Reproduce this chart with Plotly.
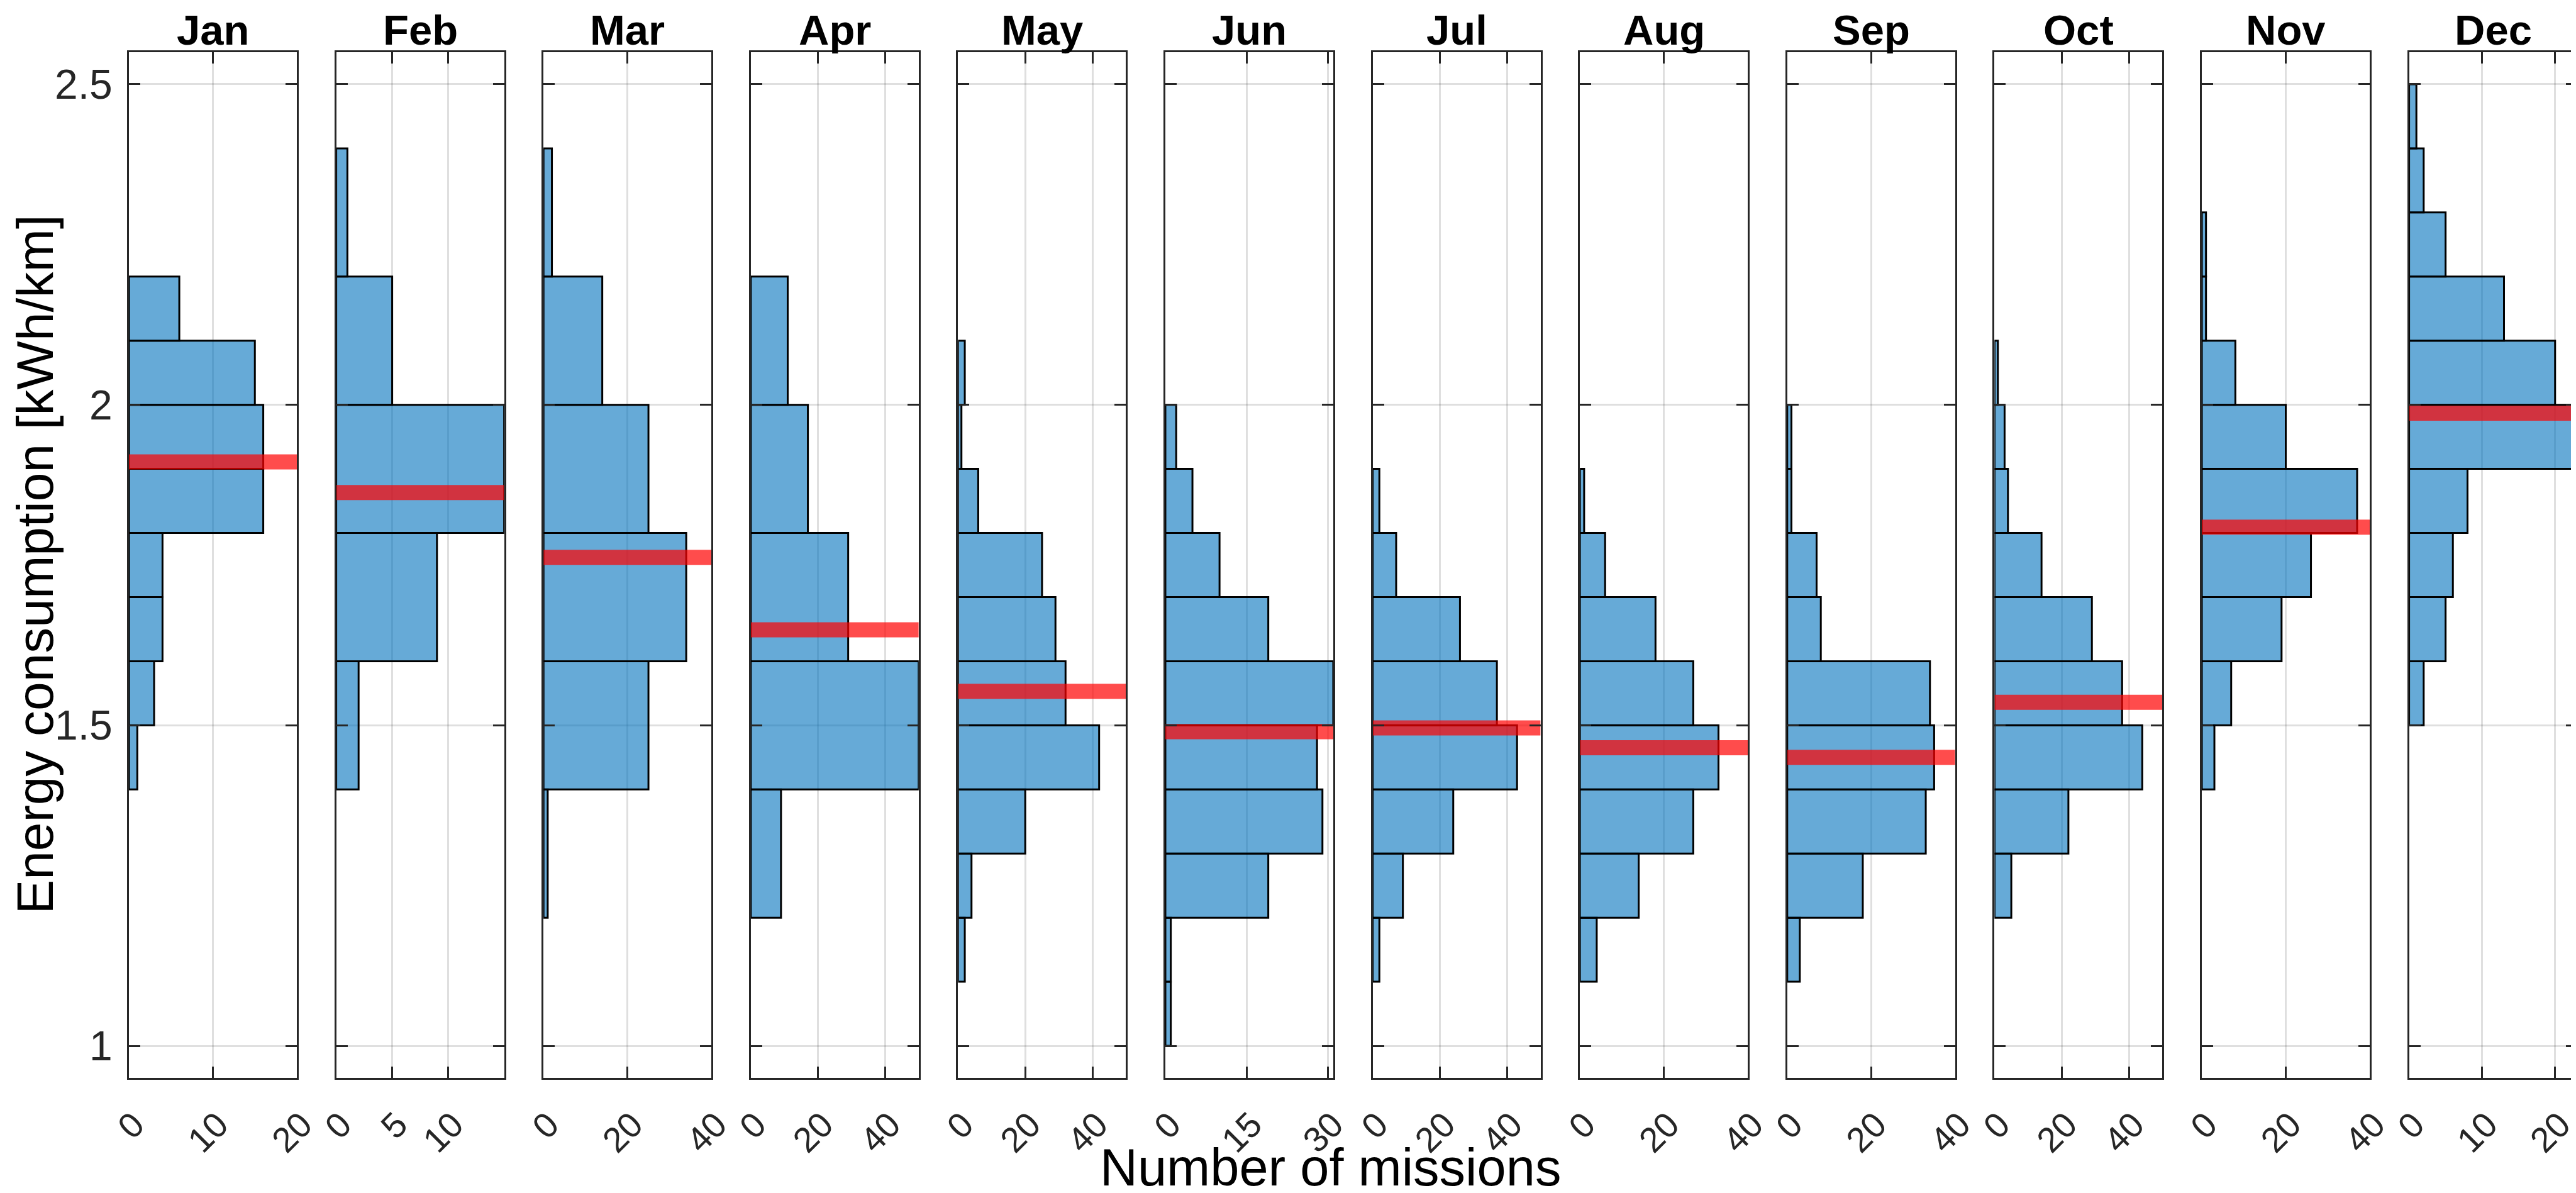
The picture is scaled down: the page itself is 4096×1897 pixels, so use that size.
import plotly.graph_objects as go

# monthly histograms of energy consumption (horizontal bars)
months = ["Jan", "Feb", "Mar", "Apr", "May", "Jun", "Jul", "Aug", "Sep", "Oct", "Nov", "Dec"]

# lower edge of the first bin and bin width for every month [kWh/km]
bin_start = [1.4, 1.4, 1.2, 1.2, 1.1, 1.0, 1.1, 1.1, 1.1, 1.2, 1.4, 1.5]
bin_width = [0.1, 0.2, 0.2, 0.2, 0.1, 0.1, 0.1, 0.1, 0.1, 0.1, 0.1, 0.1]

# number of missions per bin, from the lowest bin upwards
counts_jan = [1, 3, 4, 4, 16, 16, 15, 6]
counts_feb = [2, 9, 15, 5, 1]
counts_mar = [1, 25, 34, 25, 14, 2]
counts_apr = [9, 50, 29, 17, 11]
counts_may = [2, 4, 20, 42, 32, 29, 25, 6, 1, 2]
counts_jun = [1, 1, 19, 29, 28, 31, 19, 10, 5, 2]
counts_jul = [2, 9, 24, 43, 37, 26, 7, 2]
counts_aug = [4, 14, 27, 33, 27, 18, 6, 1]
counts_sep = [3, 18, 33, 35, 34, 8, 7, 1, 1]
counts_oct = [5, 22, 44, 38, 29, 14, 4, 3, 1]
counts_nov = [3, 7, 19, 26, 37, 20, 8, 1, 1]
counts_dec = [2, 5, 6, 8, 23, 20, 13, 5, 2, 1]

counts = [counts_jan, counts_feb, counts_mar, counts_apr, counts_may, counts_jun,
          counts_jul, counts_aug, counts_sep, counts_oct, counts_nov, counts_dec]

# mean consumption per month (red line)
mean_energy = [1.911, 1.863, 1.762, 1.649, 1.553, 1.490, 1.496, 1.465, 1.450, 1.536, 1.809, 1.987]

# x limits and ticks of every panel
count_max = [20, 15, 40, 50, 50, 31, 50, 40, 40, 50, 40, 23]
count_ticks = [[0, 10, 20], [0, 5, 10], [0, 20, 40], [0, 20, 40], [0, 20, 40], [0, 15, 30],
               [0, 20, 40], [0, 20, 40], [0, 20, 40], [0, 20, 40], [0, 20, 40], [0, 10, 20]]

energy_ticks = [1, 1.5, 2, 2.5]
energy_tick_text = ["1", "1.5", "2", "2.5"]
energy_range = [0.95, 2.55]

fig_width = 4096
fig_height = 1897
font_family = "Liberation Sans, Arial, sans-serif"
axis_color = "#262626"

figure = go.Figure()

for i, month in enumerate(months):
    centers = [bin_start[i] + bin_width[i] * (k + 0.5) for k in range(len(counts[i]))]
    axis_suffix = "" if i == 0 else str(i + 1)

    figure.add_trace(go.Bar(
        x = counts[i],
        y = centers,
        width = bin_width[i],
        orientation = "h",
        marker = dict(color = "rgba(0,114,189,0.6)", line = dict(color = "black", width = 3)),
        xaxis = "x" + axis_suffix,
        yaxis = "y" + axis_suffix,
        showlegend = False
    ))

    figure.add_trace(go.Scatter(
        x = [0, count_max[i]],
        y = [mean_energy[i], mean_energy[i]],
        mode = "lines",
        line = dict(color = "rgba(255,0,0,0.7)", width = 24),
        xaxis = "x" + axis_suffix,
        yaxis = "y" + axis_suffix,
        showlegend = False
    ))

layout = dict(
    width = fig_width,
    height = fig_height,
    margin = dict(l = 0, r = 0, t = 0, b = 0, autoexpand = False),
    plot_bgcolor = "white",
    paper_bgcolor = "white",
    font = dict(family = font_family, color = axis_color),
    annotations = []
)

y_domain = [1 - 1706 / fig_height, 1 - 75 / fig_height]

for i, month in enumerate(months):
    left = 197 + 329.6 * i
    right = left + 267
    axis_suffix = "" if i == 0 else str(i + 1)

    layout["xaxis" + axis_suffix] = dict(
        domain = [left / fig_width, right / fig_width],
        anchor = "y" + axis_suffix,
        range = [0, count_max[i]],
        tickvals = count_ticks[i],
        ticktext = [str(t) for t in count_ticks[i]],
        tickangle = -45,
        tickfont = dict(size = 56, color = axis_color),
        ticklabelstandoff = 16,
        ticklabelshift = 8,
        ticks = "inside",
        ticklen = 18,
        tickwidth = 3,
        tickcolor = axis_color,
        showline = True,
        linewidth = 3,
        linecolor = axis_color,
        mirror = "ticks",
        showgrid = True,
        gridcolor = "rgba(38,38,38,0.15)",
        gridwidth = 3,
        zeroline = False,
        fixedrange = True
    )

    layout["yaxis" + axis_suffix] = dict(
        domain = y_domain,
        anchor = "x" + axis_suffix,
        range = energy_range,
        tickvals = energy_ticks,
        ticktext = energy_tick_text,
        showticklabels = (i == 0),
        tickfont = dict(size = 66, color = axis_color),
        ticklabelstandoff = 10,
        ticks = "inside",
        ticklen = 18,
        tickwidth = 3,
        tickcolor = axis_color,
        showline = True,
        linewidth = 3,
        linecolor = axis_color,
        mirror = "ticks",
        showgrid = True,
        gridcolor = "rgba(38,38,38,0.15)",
        gridwidth = 3,
        zeroline = False,
        fixedrange = True
    )

    # month title above each panel
    layout["annotations"].append(dict(
        text = "<b>" + month + "</b>",
        x = (left + right) / 2 / fig_width,
        y = 1,
        xref = "paper",
        yref = "paper",
        xanchor = "center",
        yanchor = "top",
        showarrow = False,
        font = dict(size = 67, color = "black", family = font_family)
    ))

layout["annotations"].append(dict(
    text = "Energy consumption [kWh/km]",
    x = 0,
    y = 1 - 890 / fig_height,
    xref = "paper",
    yref = "paper",
    xanchor = "left",
    yanchor = "middle",
    textangle = -90,
    showarrow = False,
    font = dict(size = 82, color = "black", family = font_family)
))

layout["annotations"].append(dict(
    text = "Number of missions",
    x = 2107 / fig_width,
    y = 0,
    xref = "paper",
    yref = "paper",
    xanchor = "center",
    yanchor = "bottom",
    showarrow = False,
    font = dict(size = 83, color = "black", family = font_family)
))

figure.update_layout(layout)
figure.write_html("out.html")
